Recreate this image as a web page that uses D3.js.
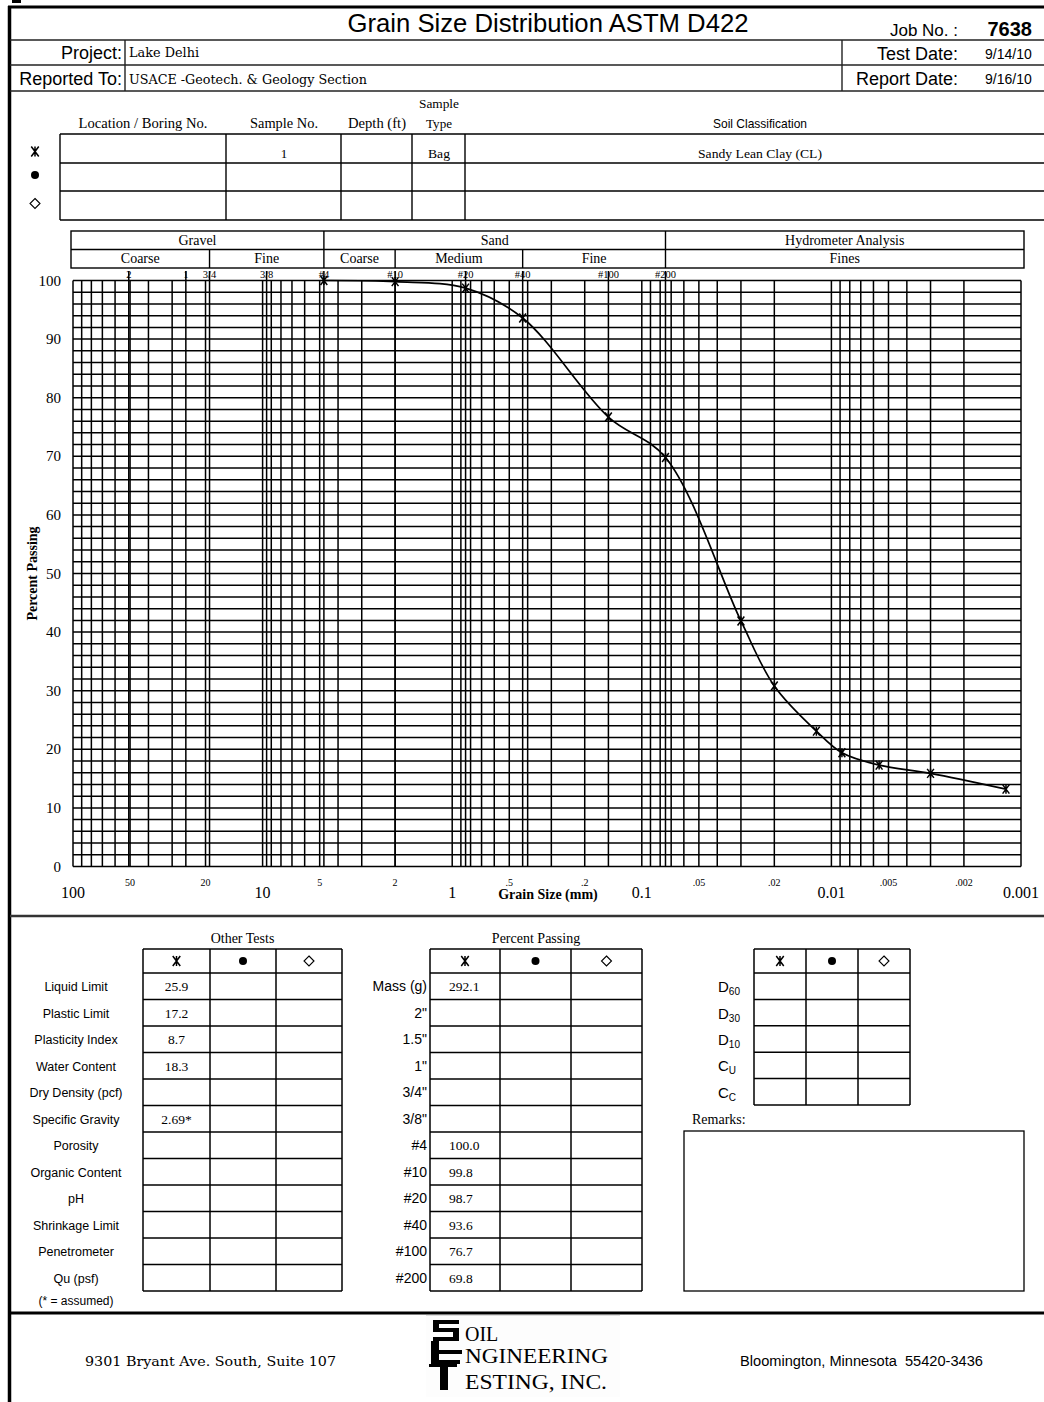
<!DOCTYPE html>
<html>
<head>
<meta charset="utf-8">
<script src="https://cdn.jsdelivr.net/npm/d3@7"></script>
<style>
  body { margin: 0; background: #fff; }
  svg { display: block; }
  text { white-space: pre; }
</style>
</head>
<body>
<svg id="page" width="1044" height="1402"></svg>
<script>
// ---------- data ----------
const sieveNames = ['#4', '#10', '#20', '#40', '#100', '#200'];
const sieveSizes = [4.75, 2.0, 0.85, 0.425, 0.15, 0.075];
const sievePassing = [100.0, 99.8, 98.7, 93.6, 76.7, 69.8];
const hydroSizes = [0.0300, 0.0200, 0.0120, 0.0088, 0.0056, 0.0030, 0.0012];
const hydroPassing = [41.9, 30.8, 23.1, 19.4, 17.3, 15.9, 13.2];

const topSieveLabels = ['2', '1', '3/4', '3/8', '#4', '#10', '#20', '#40', '#100', '#200'];
const topSieveSizes = [50.8, 25.4, 19.05, 9.525, 4.75, 2.0, 0.85, 0.425, 0.15, 0.075];

const majorTicks = [100, 10, 1, 0.1, 0.01, 0.001];
const majorTickLabels = ['100', '10', '1', '0.1', '0.01', '0.001'];
const minorTicks = [50, 20, 5, 2, 0.5, 0.2, 0.05, 0.02, 0.005, 0.002];
const minorTickLabels = ['50', '20', '5', '2', '.5', '.2', '.05', '.02', '.005', '.002'];
const yTicks = [0, 10, 20, 30, 40, 50, 60, 70, 80, 90, 100];

const bandNames = ['Gravel', 'Sand', 'Hydrometer Analysis'];
const bandEdges = [100, 4.75, 0.075, 0.001];
const subBandNames = ['Coarse', 'Fine', 'Coarse', 'Medium', 'Fine', 'Fines'];
const subBandEdges = [100, 19.05, 4.75, 2.0, 0.425, 0.075, 0.001];

const sampleSymbols = ['asterisk', 'circle', 'diamond'];
const sampleNumbers = ['1', '', ''];
const sampleTypes = ['Bag', '', ''];
const soilClasses = ['Sandy Lean Clay (CL)', '', ''];

const otherTestNames = ['Liquid Limit', 'Plastic Limit', 'Plasticity Index', 'Water Content',
  'Dry Density (pcf)', 'Specific Gravity', 'Porosity', 'Organic Content', 'pH',
  'Shrinkage Limit', 'Penetrometer', 'Qu (psf)'];
const otherTestValues = ['25.9', '17.2', '8.7', '18.3', '', '2.69*', '', '', '', '', '', ''];

const passingLabels = ['Mass (g)', '2"', '1.5"', '1"', '3/4"', '3/8"', '#4', '#10', '#20', '#40', '#100', '#200'];
const passingValues = ['292.1', '', '', '', '', '', '100.0', '99.8', '98.7', '93.6', '76.7', '69.8'];

const coefLetters = ['D', 'D', 'D', 'C', 'C'];
const coefSubs = ['60', '30', '10', 'U', 'C'];

// ---------- setup ----------
const W = 1044, H = 1402;
const SANS = "'Liberation Sans', Arial, sans-serif";
const SERIF = "'Liberation Serif', 'Times New Roman', serif";
const SCHOOL = "'DejaVu Serif', Georgia, serif";

const svg = d3.select('#page');
svg.append('rect').attr('width', W).attr('height', H).attr('fill', '#fff');

function txt(g, s, x, y, o = {}) {
  const t = g.append('text')
    .attr('x', x).attr('y', y)
    .attr('font-family', o.font || SERIF)
    .attr('font-size', o.size || 13)
    .attr('text-anchor', o.anchor || 'start')
    .attr('fill', o.fill || '#000')
    .text(s);
  if (o.weight) t.attr('font-weight', o.weight);
  if (o.len) t.attr('textLength', o.len).attr('lengthAdjust', 'spacingAndGlyphs');
  return t;
}

function seg(g, x1, y1, x2, y2, w, c) {
  g.append('line')
    .attr('x1', x1).attr('y1', y1).attr('x2', x2).attr('y2', y2)
    .attr('stroke', c || '#000').attr('stroke-width', w || 1.2);
}

function symbol(g, type, cx, cy, r) {
  if (type === 'asterisk') {
    g.append('path')
      .attr('d', `M${cx - r * 0.75},${cy - r}L${cx + r * 0.75},${cy + r}M${cx - r * 0.75},${cy + r}L${cx + r * 0.75},${cy - r}M${cx},${cy - r}L${cx},${cy + r}`)
      .attr('stroke', '#000').attr('stroke-width', 1.5).attr('fill', 'none');
  } else if (type === 'circle') {
    g.append('circle').attr('cx', cx).attr('cy', cy).attr('r', r * 0.8).attr('fill', '#000');
  } else {
    g.append('path')
      .attr('d', `M${cx},${cy - r}L${cx + r},${cy}L${cx},${cy + r}L${cx - r},${cy}Z`)
      .attr('stroke', '#000').attr('stroke-width', 1.1).attr('fill', 'none');
  }
}

// ---------- page frame ----------
const frame = svg.append('g').attr('class', 'frame');
frame.append('rect').attr('x', 12).attr('y', 0).attr('width', 9).attr('height', 3).attr('fill', '#000');
seg(frame, 8, 7, W, 7, 3);
seg(frame, 9.5, 6, 9.5, H, 3.5);
[40, 65, 91].forEach(yy => seg(frame, 10, yy, W, yy, 1.4, '#222'));
seg(frame, 125, 40, 125, 91, 1.4, '#222');
seg(frame, 842, 40, 842, 91, 1.4, '#222');
seg(frame, 10, 916, W, 916, 2.5, '#333');
seg(frame, 10, 1313, W, 1313, 3, '#000');

// ---------- heading ----------
const head = svg.append('g').attr('class', 'heading');
txt(head, 'Grain Size Distribution ASTM D422', 548, 32, {font: SANS, size: 25, anchor: 'middle', len: 401});
txt(head, 'Job No. :', 958, 36, {font: SANS, size: 17, anchor: 'end'});
txt(head, '7638', 1032, 36, {font: SANS, size: 20, anchor: 'end', weight: 'bold'});
txt(head, 'Project:', 122, 59, {font: SANS, size: 18, anchor: 'end'});
txt(head, 'Lake Delhi', 129, 57, {font: SCHOOL, size: 12, len: 70});
txt(head, 'Test Date:', 958, 60, {font: SANS, size: 18, anchor: 'end'});
txt(head, '9/14/10', 985, 59, {font: SANS, size: 14});
txt(head, 'Reported To:', 122, 85, {font: SANS, size: 18, anchor: 'end'});
txt(head, 'USACE -Geotech. & Geology Section', 129, 84, {font: SCHOOL, size: 12, len: 238});
txt(head, 'Report Date:', 958, 85, {font: SANS, size: 18, anchor: 'end'});
txt(head, '9/16/10', 985, 84, {font: SANS, size: 14});

// ---------- sample table ----------
const st = svg.append('g').attr('class', 'sample-table');
const stCols = [60, 226, 341, 412, 465];
const stRows = [134, 163, 191, 220];
stRows.forEach(yy => seg(st, 60, yy, W, yy, 1.4));
stCols.forEach(xx => seg(st, xx, 134, xx, 220, 1.4));
txt(st, 'Location / Boring No.', 143, 128, {size: 14, anchor: 'middle', len: 129});
txt(st, 'Sample No.', 284, 128, {size: 14, anchor: 'middle', len: 68});
txt(st, 'Depth (ft)', 377, 128, {size: 14, anchor: 'middle', len: 58});
txt(st, 'Sample', 439, 108, {size: 13, anchor: 'middle', len: 40});
txt(st, 'Type', 439, 128, {size: 13, anchor: 'middle', len: 26});
txt(st, 'Soil Classification', 760, 128, {font: SANS, size: 13, anchor: 'middle', len: 94});
const rowMid = [148.5, 177, 205.5];
sampleSymbols.forEach((s, i) => symbol(st, s, 35, rowMid[i] + (i === 0 ? 3 : -2), 5));
sampleNumbers.forEach((s, i) => txt(st, s, 284, rowMid[i] + 9, {size: 13, anchor: 'middle'}));
sampleTypes.forEach((s, i) => txt(st, s, 439, rowMid[i] + 9, {size: 13, anchor: 'middle', len: s ? 22 : null}));
soilClasses.forEach((s, i) => txt(st, s, 760, rowMid[i] + 9, {size: 13, anchor: 'middle', len: s ? 124 : null}));

// ---------- chart ----------
const chart = svg.append('g').attr('class', 'chart');
const x = d3.scaleLog().domain([100, 0.001]).range([73, 1021]);
const y = d3.scaleLinear().domain([0, 100]).range([866.5, 280.5]);
const gridTop = y(100), gridBottom = y(0);

// classification bands above the grid
const bandLeft = x(100) - 2, bandRight = x(0.001) + 3;
const ex = v => (v === 100 ? bandLeft : v === 0.001 ? bandRight : x(v));
const bandG = chart.append('g');
bandG.append('rect').attr('x', bandLeft).attr('y', 231).attr('width', bandRight - bandLeft).attr('height', 37)
  .attr('fill', 'none').attr('stroke', '#000').attr('stroke-width', 1.4);
seg(bandG, bandLeft, 249.5, bandRight, 249.5, 1.4);
bandNames.forEach((n, i) => {
  if (i > 0) seg(bandG, ex(bandEdges[i]), 231, ex(bandEdges[i]), 249.5, 1.4);
  txt(bandG, n, (ex(bandEdges[i]) + ex(bandEdges[i + 1])) / 2, 245, {size: 14, anchor: 'middle'});
});
subBandNames.forEach((n, i) => {
  if (i > 0) seg(bandG, ex(subBandEdges[i]), 249.5, ex(subBandEdges[i]), 268, 1.4);
  txt(bandG, n, (ex(subBandEdges[i]) + ex(subBandEdges[i + 1])) / 2, 263, {size: 14, anchor: 'middle'});
});

// grid
const gridG = chart.append('g').attr('stroke', '#000').attr('stroke-width', 1.5);
const logLines = [];
for (let e = -3; e <= 1; e++) for (let k = 1; k <= 9; k++) logLines.push(k * Math.pow(10, e));
logLines.push(100);
gridG.selectAll('.vgrid').data(logLines).enter().append('line')
  .attr('class', 'vgrid')
  .attr('x1', d => x(d)).attr('x2', d => x(d))
  .attr('y1', gridTop).attr('y2', gridBottom);
gridG.selectAll('.sieveline').data(topSieveSizes).enter().append('line')
  .attr('class', 'sieveline')
  .attr('x1', d => x(d)).attr('x2', d => x(d))
  .attr('y1', 271).attr('y2', gridBottom);
gridG.selectAll('.hgrid').data(d3.range(0, 101, 2)).enter().append('line')
  .attr('class', 'hgrid')
  .attr('x1', x(100)).attr('x2', x(0.001))
  .attr('y1', d => y(d)).attr('y2', d => y(d));

// sieve labels on top
topSieveLabels.forEach((s, i) => txt(chart, s, x(topSieveSizes[i]), 278, {size: 10.5, anchor: 'middle'}));

// y axis labels
yTicks.forEach(v => txt(chart, String(v), 61, y(v) + 5, {size: 15, anchor: 'end'}));
txt(chart, 'Percent Passing', 0, 0, {size: 14, anchor: 'middle', weight: 'bold'})
  .attr('transform', `translate(37,${(gridTop + gridBottom) / 2}) rotate(-90)`);

// x axis labels
majorTicks.forEach((v, i) => txt(chart, majorTickLabels[i], x(v), 898, {size: 16, anchor: 'middle'}));
minorTicks.forEach((v, i) => txt(chart, minorTickLabels[i], x(v), 886, {size: 10, anchor: 'middle'}));
txt(chart, 'Grain Size (mm)', 548, 899, {size: 14, anchor: 'middle', weight: 'bold'});

// gradation curve
const pts = sieveSizes.map((d, i) => [d, sievePassing[i]])
  .concat(hydroSizes.map((d, i) => [d, hydroPassing[i]]));
const line = d3.line()
  .x(d => x(d[0]))
  .y(d => y(d[1]))
  .curve(d3.curveCatmullRom.alpha(0.5));
chart.append('path').datum(pts).attr('d', line)
  .attr('fill', 'none').attr('stroke', '#000').attr('stroke-width', 1.7);
pts.forEach(p => symbol(chart, 'asterisk', x(p[0]), y(p[1]), 4.5));

// ---------- lower tables ----------
const tables = svg.append('g').attr('class', 'tables');
const tTop = 949, tHead = 973, rowH = 26.5;

function tableGrid(g, cols, nRows, rh) {
  const bottom = tHead + nRows * rh;
  seg(g, cols[0], tTop, cols[cols.length - 1], tTop, 1.5);
  for (let r = 0; r <= nRows; r++) seg(g, cols[0], tHead + r * rh, cols[cols.length - 1], tHead + r * rh, 1.5);
  cols.forEach(c => seg(g, c, tTop, c, bottom, 1.5));
  for (let c = 0; c < 3; c++) symbol(g, sampleSymbols[c], (cols[c] + cols[c + 1]) / 2, 961, 5);
}

const otCols = [143, 210, 276, 342];
tableGrid(tables, otCols, 12, rowH);
txt(tables, 'Other Tests', (otCols[0] + otCols[3]) / 2, 943, {size: 14, anchor: 'middle'});
otherTestNames.forEach((n, i) => {
  const cy = tHead + (i + 0.5) * rowH;
  txt(tables, n, 76, cy + 5, {font: SANS, size: 12.5, anchor: 'middle'});
  txt(tables, otherTestValues[i], (otCols[0] + otCols[1]) / 2, cy + 5, {size: 13.5, anchor: 'middle'});
});
txt(tables, '(* = assumed)', 76, 1305, {font: SANS, size: 12, anchor: 'middle'});

const ppCols = [430, 500, 571, 642];
tableGrid(tables, ppCols, 12, rowH);
txt(tables, 'Percent Passing', (ppCols[0] + ppCols[3]) / 2, 943, {size: 14, anchor: 'middle'});
passingLabels.forEach((n, i) => {
  const cy = tHead + (i + 0.5) * rowH;
  txt(tables, n, 427, cy + 5, {font: SANS, size: 14, anchor: 'end'});
  txt(tables, passingValues[i], 449, cy + 5, {size: 13.5});
});

const cfCols = [754, 806, 858, 910];
const cfRowH = 26.4;
tableGrid(tables, cfCols, 5, cfRowH);
coefLetters.forEach((l, i) => {
  const cy = tHead + (i + 0.5) * cfRowH;
  const t = txt(tables, l, 718, cy + 6, {font: SANS, size: 15});
  t.append('tspan').attr('font-size', 10).attr('dy', 3).text(coefSubs[i]);
});
txt(tables, 'Remarks:', 692, 1124, {size: 14});
tables.append('rect').attr('x', 684).attr('y', 1131).attr('width', 340).attr('height', 160)
  .attr('fill', 'none').attr('stroke', '#000').attr('stroke-width', 1.3);

// ---------- footer ----------
const foot = svg.append('g').attr('class', 'footer');
txt(foot, '9301 Bryant Ave. South, Suite 107', 85, 1366, {font: SCHOOL, size: 13, len: 251});
txt(foot, 'Bloomington, Minnesota  55420-3436', 740, 1366, {font: SANS, size: 14, len: 243});

// logo
const logo = foot.append('g');
logo.append('rect').attr('x', 426).attr('y', 1315).attr('width', 194).attr('height', 82).attr('fill', '#fdfdfd');
seg(logo, 426, 1315.5, 620, 1315.5, 1, '#ddd');
const blk = (x0, y0, w, h) => logo.append('rect').attr('x', x0).attr('y', y0).attr('width', w).attr('height', h).attr('fill', '#000');
// S
blk(433, 1320, 26, 4);
blk(433, 1320, 6, 11);
blk(433, 1328, 26, 4);
blk(453, 1328, 6, 12);
blk(433, 1337, 26, 4);
// E
blk(431, 1341, 8, 22);
blk(431, 1350, 31, 4);
blk(431, 1360, 29, 4);
// T
blk(429, 1364, 28, 3);
blk(440, 1364, 8, 26);
txt(logo, 'OIL', 465, 1341, {size: 20});
txt(logo, 'NGINEERING', 465, 1363, {size: 20, len: 143});
txt(logo, 'ESTING, INC.', 465, 1389, {size: 20, len: 142});
</script>
</body>
</html>
